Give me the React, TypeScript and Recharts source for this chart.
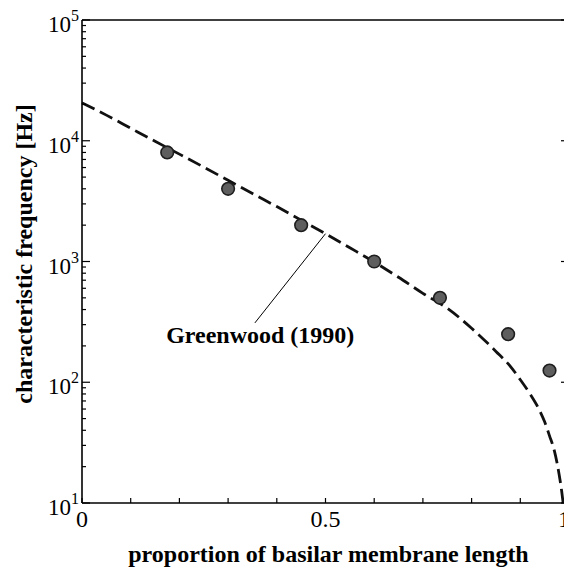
import {
  ComposedChart,
  Line,
  Scatter,
  XAxis,
  YAxis,
  ReferenceLine,
  ReferenceDot,
} from 'recharts';

const FONT = '"Liberation Serif", "Times New Roman", serif';

// Greenwood (1990) curve
const curveX = [0, 0.05, 0.1, 0.15, 0.2, 0.25, 0.3, 0.35, 0.4, 0.45, 0.5, 0.55, 0.6, 0.65, 0.7, 0.75, 0.8, 0.85, 0.88, 0.9, 0.92, 0.94, 0.95, 0.96, 0.97, 0.98, 0.985, 0.988];
const curveHz = [20600, 16300, 12700, 9900, 7750, 6050, 4700, 3650, 2850, 2200, 1700, 1300, 990, 740, 545, 410, 280, 180, 135, 105, 80, 58, 47, 36, 27, 17, 12.5, 10];

// measured points
const pointX = [0.175, 0.3, 0.45, 0.6, 0.735, 0.875, 0.96];
const pointHz = [8000, 4000, 2000, 1000, 500, 250, 125];

const xTicks = [0, 0.1, 0.2, 0.3, 0.4, 0.5, 0.6, 0.7, 0.8, 0.9, 1];
const xTickLabels = ['0', '', '', '', '', '0.5', '', '', '', '', '1'];
const yDecades = [10, 100, 1000, 10000, 100000];
const yTicks = [10, 20, 30, 40, 50, 60, 70, 80, 90, 100, 200, 300, 400, 500, 600, 700, 800, 900, 1000, 2000, 3000, 4000, 5000, 6000, 7000, 8000, 9000, 10000, 20000, 30000, 40000, 50000, 60000, 70000, 80000, 90000, 100000];

const curveData = curveX.map((x, i) => ({ x, hz: curveHz[i] }));
const pointData = pointX.map((x, i) => ({ x, hz: pointHz[i] }));

const isDecade = (v: number) => yDecades.some((d) => Math.abs(d - v) < 1e-6);

const LeftTick = (props: any) => {
  const { x, y, payload } = props;
  const major = isDecade(payload.value);
  const exp = Math.round(Math.log10(payload.value));
  return (
    <g>
      <line x1={x} x2={x + (major ? 8 : 4)} y1={y} y2={y} stroke="#000" strokeWidth={1.2} />
      {major && (
        <text x={x - 3} y={y + 12} textAnchor="end" fontSize={23} fontFamily={FONT} fill="#000">
          10
          <tspan dy={-11} fontSize={16}>{exp}</tspan>
        </text>
      )}
    </g>
  );
};

const RightTick = (props: any) => {
  const { x, y, payload } = props;
  const major = isDecade(payload.value);
  return <line x1={x} x2={x - (major ? 8 : 4)} y1={y} y2={y} stroke="#000" strokeWidth={1.2} />;
};

const BottomTick = (props: any) => {
  const { x, y, index } = props;
  const last = index === xTicks.length - 1;
  return (
    <g>
      <line x1={x} x2={x} y1={y} y2={y - 5} stroke="#000" strokeWidth={1.2} />
      <text x={last ? x + 1 : x} y={y + 24} textAnchor={last ? 'end' : 'middle'} fontSize={24} fontFamily={FONT} fill="#000">
        {xTickLabels[index] ?? ''}
      </text>
    </g>
  );
};

const TopTick = (props: any) => {
  const { x, y } = props;
  return <line x1={x} x2={x} y1={y} y2={y + 5} stroke="#000" strokeWidth={1.2} />;
};

const XTitle = (props: any) => {
  const vb = props.viewBox;
  return (
    <text x={vb.x + vb.width / 2 + 3} y={vb.y + 59} textAnchor="middle" fontSize={24} fontWeight="bold" fontFamily={FONT} fill="#000">
      proportion of basilar membrane length
    </text>
  );
};

const YTitle = () => {
  return (
    <text x={24} y={246} transform="rotate(-90 24 246)" textAnchor="middle" fontSize={24} fontWeight="bold" fontFamily={FONT} fill="#000">
      characteristic frequency [Hz]
    </text>
  );
};

const Dot = (props: any) => {
  const { cx, cy } = props;
  return <circle cx={cx} cy={cy} r={6.3} fill="#5e5e5e" stroke="#1e1e1e" strokeWidth={1.6} />;
};

const GreenwoodText = (props: any) => {
  const { cx, cy } = props;
  return (
    <text x={cx} y={cy} textAnchor="middle" fontSize={24} fontWeight="bold" fontFamily={FONT} fill="#000">
      Greenwood (1990)
    </text>
  );
};

export default function App() {
  return (
    <ComposedChart width={564} height={560} margin={{ top: 0, right: 0, bottom: 0, left: 0 }}>
      <XAxis
        xAxisId="b"
        dataKey="x"
        type="number"
        domain={[0, 1]}
        ticks={xTicks}
        interval={0}
        height={65}
        tickSize={0}
        tickMargin={0}
        tickLine={false}
        tick={<BottomTick />}
        axisLine={{ stroke: '#000', strokeWidth: 1.6 }}
        label={<XTitle />}
      />
      <XAxis
        xAxisId="t"
        orientation="top"
        dataKey="x"
        type="number"
        domain={[0, 1]}
        ticks={xTicks}
        interval={0}
        height={12}
        tickSize={0}
        tickMargin={0}
        tickLine={false}
        tick={<TopTick />}
        axisLine={{ stroke: '#000', strokeWidth: 1.4 }}
      />
      <YAxis
        yAxisId="l"
        scale="log"
        type="number"
        domain={[10, 100000]}
        allowDataOverflow
        ticks={yTicks}
        interval={0}
        width={74}
        tickSize={0}
        tickMargin={0}
        tickLine={false}
        tick={<LeftTick />}
        axisLine={{ stroke: '#000', strokeWidth: 1.6 }}
        label={<YTitle />}
      />
      <YAxis
        yAxisId="r"
        orientation="right"
        scale="log"
        type="number"
        domain={[10, 100000]}
        allowDataOverflow
        ticks={yTicks}
        interval={0}
        width={3}
        tickSize={0}
        tickMargin={0}
        tickLine={false}
        tick={<RightTick />}
        axisLine={{ stroke: '#000', strokeWidth: 1.4 }}
      />
      <ReferenceLine
        xAxisId="b"
        yAxisId="l"
        segment={[{ x: 0.355, y: 310 }, { x: 0.5, y: 1700 }]}
        stroke="#000"
        strokeWidth={1}
      />
      <Line
        xAxisId="b"
        yAxisId="l"
        data={curveData}
        dataKey="hz"
        type="monotone"
        stroke="#111"
        strokeWidth={2.8}
        strokeDasharray="14 6"
        dot={false}
        isAnimationActive={false}
      />
      <Scatter
        xAxisId="b"
        yAxisId="l"
        data={pointData}
        dataKey="hz"
        shape={<Dot />}
        isAnimationActive={false}
      />
      <ReferenceDot
        xAxisId="b"
        yAxisId="l"
        x={0.366}
        y={211}
        r={0}
        shape={<GreenwoodText />}
      />
    </ComposedChart>
  );
}
